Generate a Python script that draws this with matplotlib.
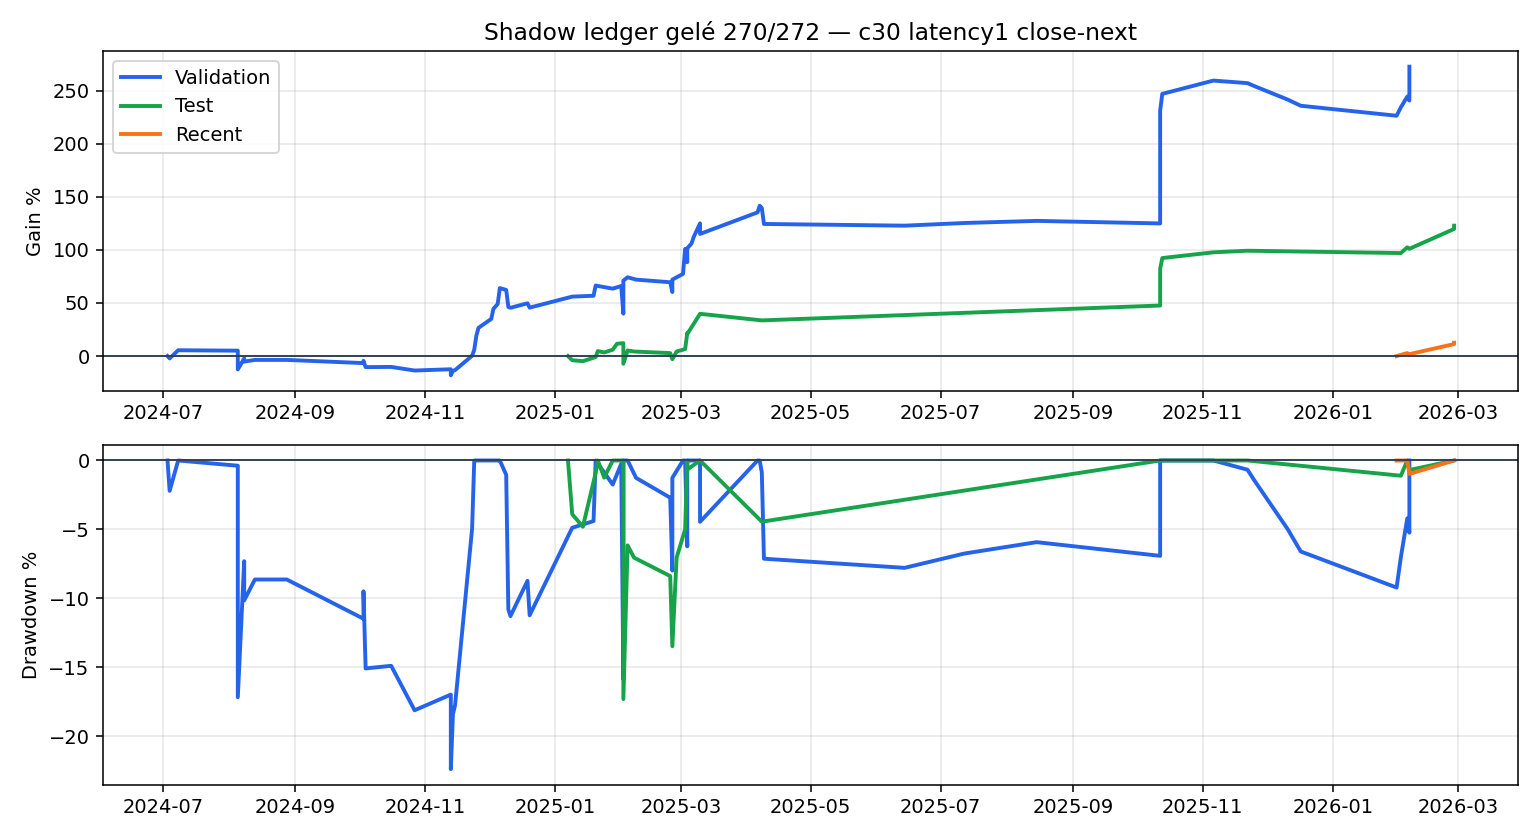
import pandas as pd
import matplotlib
matplotlib.use("Agg")
import matplotlib.pyplot as plt

# gain % per split
val_dates = ["2024-07-03", "2024-07-04", "2024-07-08", "2024-08-05", "2024-08-05", "2024-08-08",
             "2024-08-08", "2024-08-13", "2024-08-28", "2024-10-03", "2024-10-03", "2024-10-04",
             "2024-10-16", "2024-10-27", "2024-11-13", "2024-11-13", "2024-11-13", "2024-11-14",
             "2024-11-15", "2024-11-23", "2024-11-24", "2024-11-25", "2024-11-26", "2024-12-02",
             "2024-12-03", "2024-12-05", "2024-12-06", "2024-12-09", "2024-12-10", "2024-12-11",
             "2024-12-19", "2024-12-20", "2025-01-09", "2025-01-19", "2025-01-20", "2025-01-28",
             "2025-02-01", "2025-02-02", "2025-02-02", "2025-02-04", "2025-02-08", "2025-02-24",
             "2025-02-25", "2025-02-25", "2025-03-02", "2025-03-03", "2025-03-04", "2025-03-04",
             "2025-03-06", "2025-03-07", "2025-03-10", "2025-03-10", "2025-04-06", "2025-04-07",
             "2025-04-08", "2025-04-09", "2025-06-14", "2025-07-12", "2025-08-15", "2025-10-12",
             "2025-10-12", "2025-10-13", "2025-11-06", "2025-11-22", "2025-11-25", "2025-12-11",
             "2025-12-17", "2026-01-31", "2026-02-02", "2026-02-05", "2026-02-06", "2026-02-06"]
val_gain = [0.0, -2.2, 5.5, 5.1, -12.6, -2.2,
            -5.2, -3.6, -3.6, -6.6, -4.5, -10.4,
            -10.2, -13.6, -12.4, -15.5, -18.1, -13.9,
            -13.2, 0.3, 6.0, 19.4, 26.6, 35.0,
            44.5, 49.0, 64.0, 62.3, 46.3, 45.5,
            49.7, 45.6, 56.0, 56.8, 66.4, 63.5,
            66.0, 40.0, 71.0, 74.2, 72.0, 69.5,
            60.3, 72.0, 77.4, 100.9, 88.4, 101.5,
            106.0, 112.0, 125.0, 115.0, 135.3, 141.6,
            139.5, 124.4, 122.8, 125.3, 127.3, 124.9,
            231.0, 246.9, 259.4, 257.0, 254.4, 241.4,
            235.7, 226.3, 234.2, 244.3, 240.6, 272.5]

test_dates = ["2025-01-07", "2025-01-09", "2025-01-14", "2025-01-20", "2025-01-21", "2025-01-24",
              "2025-01-28", "2025-01-30", "2025-02-02", "2025-02-02", "2025-02-04", "2025-02-07",
              "2025-02-24", "2025-02-25", "2025-02-27", "2025-03-03", "2025-03-04", "2025-03-04",
              "2025-03-10", "2025-04-08", "2025-10-12", "2025-10-12", "2025-10-13", "2025-11-06",
              "2025-11-22", "2026-02-02", "2026-02-05", "2026-02-06", "2026-02-27", "2026-02-27"]
test_gain = [0.0, -3.9, -4.8, -0.9, 4.7, 3.4,
             6.0, 11.6, 12.2, -7.2, 5.3, 4.3,
             2.8, -2.9, 4.3, 6.6, 21.6, 20.8,
             39.8, 33.6, 47.6, 82.0, 92.3, 97.7,
             99.2, 97.0, 102.4, 101.0, 119.7, 122.8]

recent_dates = ["2026-01-31", "2026-02-05", "2026-02-06", "2026-02-27", "2026-02-27"]
recent_gain = [0.0, 2.8, 1.8, 11.3, 12.6]

series = [
    ("Validation", val_dates, val_gain, "#2563eb"),
    ("Test", test_dates, test_gain, "#16a34a"),
    ("Recent", recent_dates, recent_gain, "#f97316"),
]


def drawdown(g):
    eq = 1 + g / 100.0
    return (eq / eq.cummax() - 1) * 100


fig, (ax1, ax2) = plt.subplots(2, 1, figsize=(11, 6), dpi=140)
fig.subplots_adjust(left=0.067, right=0.986, top=0.939, bottom=0.066, hspace=0.16)

for name, d, g, c in series:
    s = pd.Series(g, index=pd.to_datetime(d))
    ax1.plot(s.index, s.values, color=c, lw=2, label=name)
    ax2.plot(s.index, drawdown(s).values, color=c, lw=2)

for ax in (ax1, ax2):
    ax.axhline(0, color="#334155", lw=1)
    ax.grid(alpha=0.3)

ax1.set_title("Shadow ledger gelé 270/272 — c30 latency1 close-next")
ax1.set_ylabel("Gain %")
ax1.legend(loc="upper left")
ax2.set_ylabel("Drawdown %")

fig.savefig("out.png")
